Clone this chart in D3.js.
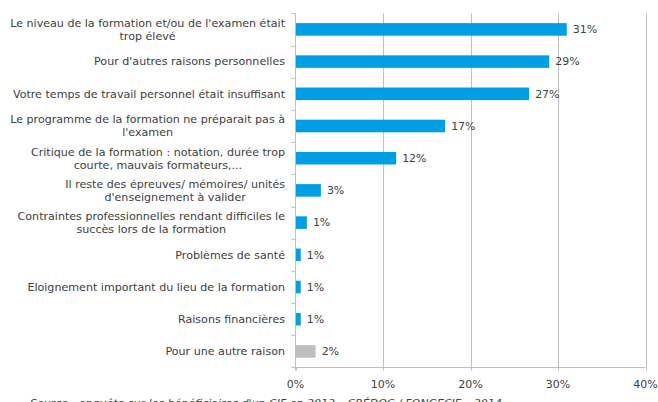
<!DOCTYPE html>
<html><head><meta charset="utf-8">
<script src="https://cdn.jsdelivr.net/npm/d3@7"></script>
<style>html,body{margin:0;padding:0;background:#fff;overflow:hidden}</style>
</head><body>
<svg id="c" width="658" height="402"></svg>
<script>
const categories = [
  "Le niveau de la formation et/ou de l'examen était\ntrop élevé",
  "Pour d'autres raisons personnelles",
  "Votre temps de travail personnel était insuffisant",
  "Le programme de la formation ne préparait pas à\nl'examen",
  "Critique de la formation : notation, durée trop\ncourte, mauvais formateurs,...",
  "Il reste des épreuves/ mémoires/ unités\nd'enseignement à valider",
  "Contraintes professionnelles rendant difficiles le\nsuccès lors de la formation",
  "Problèmes de santé",
  "Eloignement important du lieu de la formation",
  "Raisons financières",
  "Pour une autre raison"
];
const values = [31.0, 29.0, 26.7, 17.1, 11.5, 2.9, 1.3, 0.6, 0.6, 0.6, 2.3];
const valueLabels = ["31%","29%","27%","17%","12%","3%","1%","1%","1%","1%","2%"];
const isOther = [false,false,false,false,false,false,false,false,false,false,true];
const xTicks = [0, 10, 20, 30, 40];
const sourceText = "Source : enquête sur les bénéficiaires d'un CIF en 2012 – CRÉDOC / FONGECIF – 2014";

(function () {
const svg = d3.select("#c");
const font = "'DejaVu Sans', Verdana, sans-serif";
const pL = 295.5, pR = 645.5, pT = 13.3, pB = 367.5;
const x = d3.scaleLinear().domain([0, 40]).range([pL, pR]);
const y = d3.scaleBand().domain(d3.range(categories.length)).range([pT, pB]).paddingInner(0.61).paddingOuter(0.305);
const band = (pB - pT) / categories.length;
const rowCenter = i => y(i) + y.bandwidth() / 2;

// gridlines
svg.append("g").selectAll("line").data(xTicks.filter(t => t > 0)).join("line")
  .attr("x1", d => Math.round(x(d)) + 0.5).attr("x2", d => Math.round(x(d)) + 0.5)
  .attr("y1", pT).attr("y2", pB)
  .attr("stroke", "#c0c0c0").attr("stroke-width", 1);

// bars
svg.append("g").selectAll("rect").data(values).join("rect")
  .attr("x", x(0)).attr("y", (d, i) => y(i))
  .attr("width", d => x(d) - x(0)).attr("height", y.bandwidth())
  .attr("fill", (d, i) => isOther[i] ? "#bfbfbf" : "#009fe3");

// y axis line + ticks
svg.append("line").attr("x1", pL).attr("x2", pL).attr("y1", pT).attr("y2", pB + 3)
  .attr("stroke", "#bfbfbf");
svg.append("g").selectAll("line").data(d3.range(categories.length + 1)).join("line")
  .attr("x1", pL - 4).attr("x2", pL)
  .attr("y1", d => Math.round(pT + d * band) + 0.5).attr("y2", d => Math.round(pT + d * band) + 0.5)
  .attr("stroke", "#bfbfbf");
// x axis line + ticks
svg.append("line").attr("x1", pL).attr("x2", pR).attr("y1", pB).attr("y2", pB)
  .attr("stroke", "#bfbfbf");
svg.append("g").selectAll("line").data(xTicks).join("line")
  .attr("x1", d => Math.round(x(d)) + 0.5).attr("x2", d => Math.round(x(d)) + 0.5)
  .attr("y1", pB).attr("y2", pB + 3)
  .attr("stroke", "#bfbfbf");

// x tick labels
svg.append("g").selectAll("text").data(xTicks).join("text")
  .attr("x", d => x(d)).attr("y", 388)
  .attr("text-anchor", "middle")
  .attr("font-family", font).attr("font-size", 11)
  .attr("fill", "#404040")
  .text(d => d + "%");

// category labels
const labelRight = 285;
const lg = svg.append("g").attr("font-family", font)
  .attr("font-size", 11.1).attr("fill", "#404040");
categories.forEach((c, i) => {
  const lines = c.split("\n");
  const cy = rowCenter(i);
  if (lines.length === 1) {
    lg.append("text").attr("x", labelRight).attr("y", cy).attr("dy", "0.35em")
      .attr("text-anchor", "end").text(lines[0]);
  } else {
    const t = lg.append("text").attr("text-anchor", "middle");
    const tspans = lines.map((l, k) => t.append("tspan").attr("y", cy + (k - (lines.length - 1) / 2) * 13).attr("dy", "0.35em").text(l));
    const w = d3.max(tspans, s => s.node().getComputedTextLength());
    tspans.forEach(s => s.attr("x", labelRight - w / 2));
  }
});

// value labels
svg.append("g").selectAll("text").data(values).join("text")
  .attr("x", d => x(d) + 6).attr("y", (d, i) => rowCenter(i)).attr("dy", "0.35em")
  .attr("font-family", font).attr("font-size", 11)
  .attr("fill", "#404040")
  .text((d, i) => valueLabels[i]);

// source (partly cut by the bottom edge, as in the reference)
svg.append("text").attr("x", 30).attr("y", 407)
  .attr("font-family", font).attr("font-size", 11)
  .attr("font-style", "italic").attr("fill", "#404040")
  .text(sourceText);
})();
</script>
</body></html>
